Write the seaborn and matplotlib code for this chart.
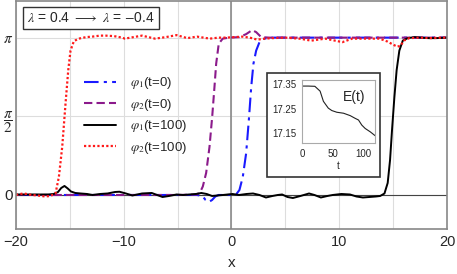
import numpy as np
import pandas as pd
import matplotlib
matplotlib.use('Agg')
import matplotlib.pyplot as plt
from matplotlib.patches import Rectangle
import seaborn as sns

# phi_1(t=0): blue dash-dot
x_p1_t0 = [-20, -3.2, -2.7, -2.4, -2.1, -1.8, -1.5, -1.2, 0.0, 0.43, 0.74, 1.05, 1.36,
           1.61, 1.83, 2.04, 2.29, 2.60, 3.06, 3.6, 20]
y_p1_t0 = [0, 0, -0.02, -0.10, -0.14, -0.10, -0.03, 0.0, 0.0, 0.01, 0.10, 0.36, 0.83,
           1.49, 2.15, 2.62, 2.88, 3.05, 3.12, 3.14, 3.14]

# phi_2(t=0): purple dashed
x_p2_t0 = [-20, -5, -3.2, -2.9, -2.66, -2.35, -2.04, -1.79, -1.58, -1.42, -1.18, -0.81,
           -0.19, 0.74, 1.36, 1.92, 2.29, 2.76, 3.53, 20]
y_p2_t0 = [0, 0, 0.01, 0.06, 0.17, 0.44, 0.96, 1.56, 2.15, 2.62, 3.02, 3.12,
           3.14, 3.15, 3.21, 3.29, 3.25, 3.15, 3.14, 3.14]

# phi_1(t=100): black solid
x_p1_t100 = [-20, -18, -17, -16.5, -16.1, -15.8, -15.5, -15.2, -14.9, -14.5, -14.0, -13.4,
             -12.9, -12.2, -11.5, -10.8, -10.4, -9.8, -9.2, -8.3, -7.4, -6.9, -6.4, -5.8,
             -5.1, -4.5, -3.9, -3.3, -2.8, -2.3, -1.8, -1.3, -0.8, 0.1, 0.7, 1.4, 2.0,
             2.6, 3.2, 3.8, 4.3, 4.7, 5.2, 5.7, 6.4, 7.2, 7.7, 8.3, 8.9, 9.4, 10.2, 11.0,
             11.6, 12.2, 12.8, 13.4, 13.8, 14.2, 14.5, 14.72, 14.9, 15.12, 15.33, 15.58,
             15.9, 16.36, 16.98, 17.6, 18.3, 19.0, 20]
y_p1_t100 = [0.01, 0.01, 0.01, 0.02, 0.06, 0.14, 0.18, 0.13, 0.07, 0.04, 0.03, 0.02,
             0.0, 0.02, 0.03, 0.06, 0.065, 0.03, -0.01, 0.03, 0.04, 0.0, -0.04, -0.02,
             0.01, 0.0, 0.01, 0.02, 0.04, 0.02, -0.02, -0.01, 0.0, 0.02, 0.0, 0.02, 0.03,
             0.0, -0.05, -0.02, 0.0, 0.01, -0.04, -0.06, -0.02, 0.03, 0.0, -0.05, -0.02,
             0.0, 0.02, 0.01, -0.03, -0.05, -0.04, -0.03, -0.02, 0.03, 0.24, 0.70, 1.29,
             1.95, 2.49, 2.88, 3.08, 3.13, 3.15, 3.14, 3.13, 3.13, 3.14]

# phi_2(t=100): red dotted
x_p2_t100 = [-20, -19.6, -19.3, -19.0, -18.5, -18.0, -17.3, -16.8, -16.33, -16.02, -15.71,
             -15.40, -15.15, -14.94, -14.63, -14.17, -13.5, -12.92, -12.2, -11.69, -10.9,
             -10.14, -9.9, -9.1, -8.3, -7.7, -7.1, -6.1, -5.1, -4.6, -4.1, -3.2, -2.6,
             -2.0, -1.2, -0.5, 1.0, 1.7, 2.4, 3.1, 3.8, 5.0, 6.3, 7.4, 8.7, 10.3, 11.2,
             12.5, 13.7, 14.0, 14.5, 15.0, 15.4, 15.7, 16.0, 16.5, 17.5, 18.5, 19.5, 20]
y_p2_t100 = [0.0, 0.02, 0.03, 0.02, 0.0, -0.01, -0.03, -0.02, 0.03, 0.36, 0.96,
             1.83, 2.49, 2.88, 3.07, 3.12, 3.15, 3.16, 3.18, 3.18, 3.17,
             3.14, 3.12, 3.15, 3.18, 3.15, 3.12, 3.15, 3.19, 3.16, 3.13, 3.16, 3.14,
             3.12, 3.14, 3.14, 3.16, 3.14, 3.10, 3.12, 3.13, 3.14, 3.12, 3.08, 3.12, 3.05, 3.12,
             3.12, 3.12, 3.10, 3.06, 3.00, 2.96, 2.98, 3.08, 3.13, 3.14, 3.13, 3.14, 3.14]

# inset: energy E(t)
t_vals = [0, 10, 21, 29.6, 35, 43, 48.8, 57, 68, 79, 87, 92.6, 98, 103.6, 112, 120]
e_vals = [17.343, 17.343, 17.342, 17.322, 17.28, 17.252, 17.242, 17.235, 17.231, 17.221,
          17.21, 17.203, 17.182, 17.168, 17.154, 17.138]

legend_labels = [r'$\varphi_1$(t=0)', r'$\varphi_2$(t=0)',
                 r'$\varphi_1$(t=100)', r'$\varphi_2$(t=100)']

sns.set_theme(style='white')
plt.rcParams['font.family'] = ['Liberation Sans', 'DejaVu Sans']
plt.rcParams['mathtext.fontset'] = 'stix'

fig = plt.figure(figsize=(4.57, 2.74), dpi=100)
ax = fig.add_axes([0.035, 0.164, 0.943, 0.834])

ax.axvline(0, color='#8a8a8a', lw=1.2, zorder=1)
ax.axhline(0, color='#444444', lw=0.8, zorder=1)

sns.lineplot(x=x_p1_t0, y=y_p1_t0, ax=ax, color='#1a1aff', lw=1.5,
             linestyle=(0, (7, 2.5, 1.5, 2.5)), estimator=None, label=legend_labels[0])
sns.lineplot(x=x_p2_t0, y=y_p2_t0, ax=ax, color='#8b1a8b', lw=1.5,
             linestyle=(0, (4, 2)), estimator=None, label=legend_labels[1])
sns.lineplot(x=x_p1_t100, y=y_p1_t100, ax=ax, color='black', lw=1.4,
             estimator=None, label=legend_labels[2])
sns.lineplot(x=x_p2_t100, y=y_p2_t100, ax=ax, color='#ff1a1a', lw=1.6,
             linestyle=(0, (1, 1)), estimator=None, label=legend_labels[3])

ax.set_xlim(-20, 20)
ax.set_ylim(-0.68, 3.88)
ax.set_xticks([-20, -10, 0, 10, 20])
ax.set_xticklabels(['\u221220', '\u221210', '0', '10', '20'])
ax.set_xticks([-15, -5, 5, 15], minor=True)
ax.set_yticks([0, np.pi / 2, np.pi])
ax.set_yticklabels(['0', r'$\dfrac{\pi}{2}$', r'$\pi$'])
ax.tick_params(axis='x', which='major', labelsize=10.5, pad=4, length=0)
ax.tick_params(axis='x', which='minor', length=0)
ax.tick_params(axis='y', labelsize=11, pad=2, length=4, direction='in', color='#888888')
ax.grid(True, which='both', color='#dddddd', lw=0.8)
ax.set_axisbelow(True)
for s in ax.spines.values():
    s.set_color('#888888')
    s.set_linewidth(1.2)
ax.set_xlabel('x', fontsize=11, labelpad=5)
ax.set_ylabel('')

ax.legend(loc='upper left', bbox_to_anchor=(0.13, 0.725), frameon=False, fontsize=9.5,
          handlelength=2.4, labelspacing=0.42, handletextpad=1.1)

ax.text(0.025, 0.955, r'$\lambda$ = 0.4 $\longrightarrow$ $\lambda$ = $-$0.4',
        transform=ax.transAxes, fontsize=10, va='top', ha='left',
        bbox=dict(boxstyle='square,pad=0.3', fc='white', ec='#333333', lw=1))

# inset frame
rect = Rectangle((0.584, 0.354), 0.247, 0.380, transform=fig.transFigure,
                 facecolor='white', edgecolor='#333333', lw=1.2, zorder=2)
fig.add_artist(rect)

ins = fig.add_axes([0.661, 0.478, 0.160, 0.230])
ins.set_zorder(3)
sns.lineplot(x=t_vals, y=e_vals, ax=ins, color='#222222', lw=0.8, estimator=None)
ins.set_xlim(0, 120)
ins.set_ylim(17.108, 17.368)
ins.set_xticks([0, 50, 100])
ins.set_yticks([17.15, 17.25, 17.35])
ins.set_yticklabels(['17.15', '17.25', '17.35'])
ins.tick_params(labelsize=7, length=2, pad=2, color='#aaaaaa')
ins.grid(False)
for s in ins.spines.values():
    s.set_color('#aaaaaa')
    s.set_linewidth(0.8)
ins.set_xlabel('t', fontsize=7, labelpad=2)
ins.text(0.71, 0.73, 'E(t)', transform=ins.transAxes, fontsize=10, ha='center', va='center')

fig.savefig('out.png', dpi=100)
